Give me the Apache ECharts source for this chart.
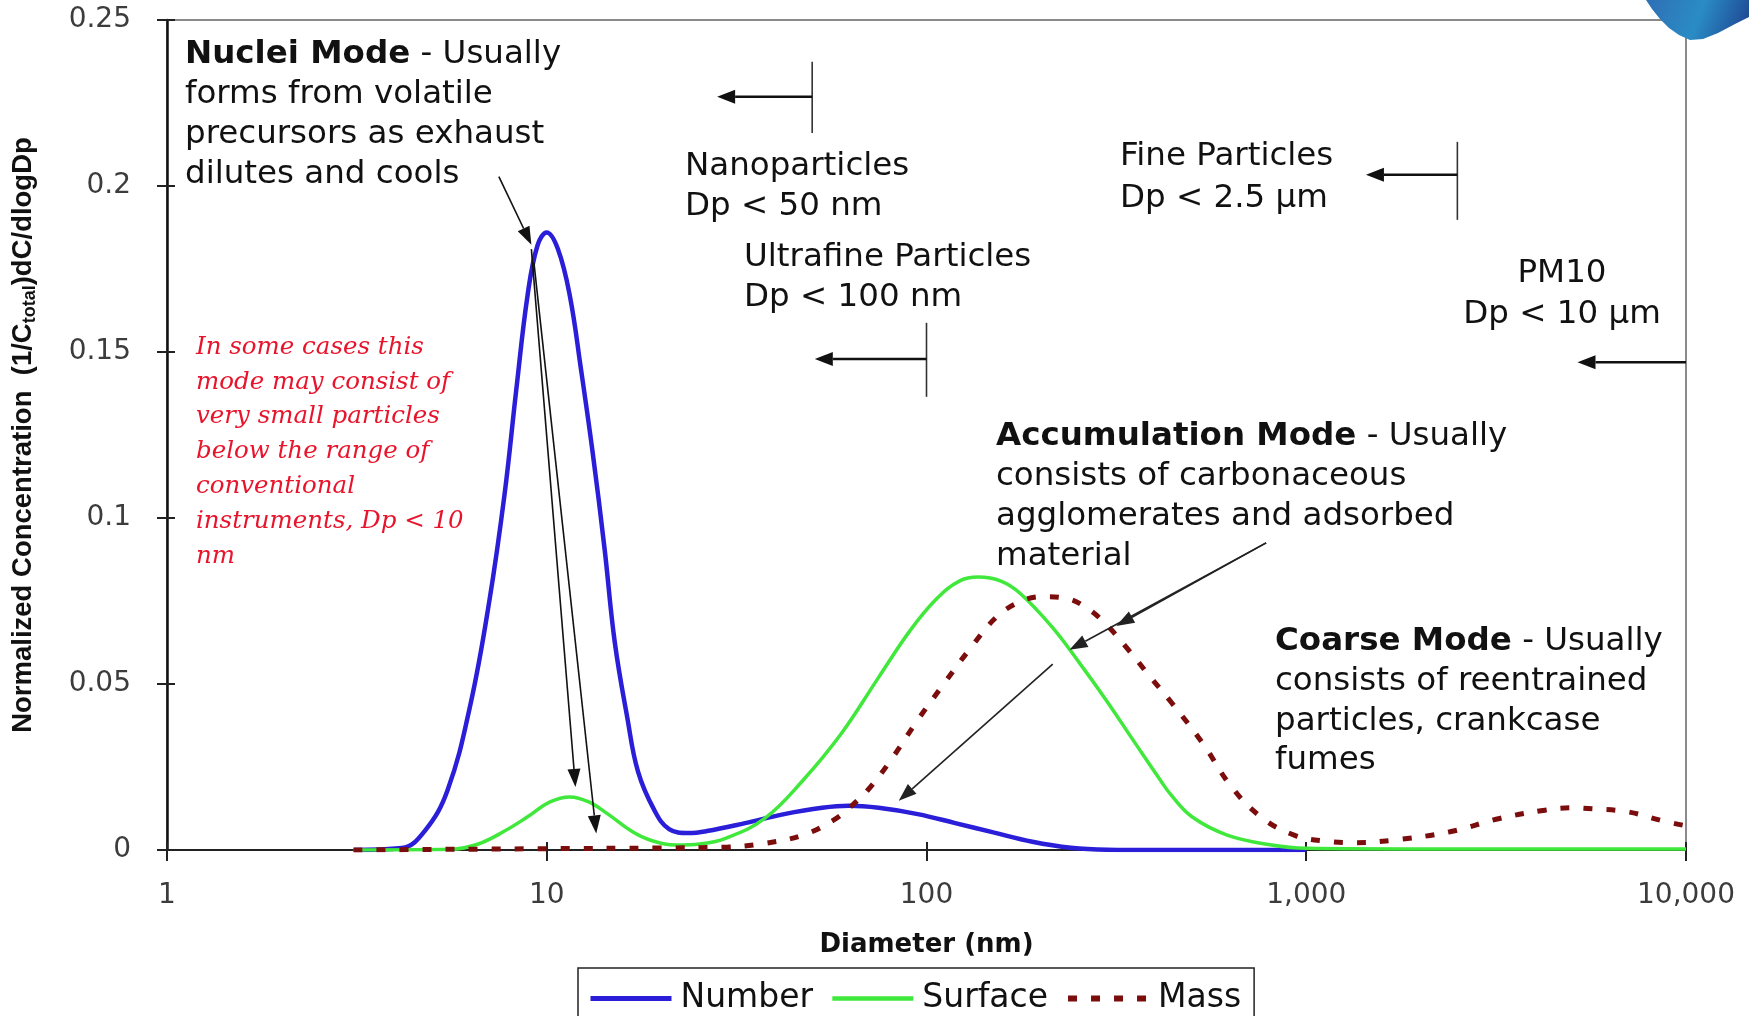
<!DOCTYPE html>
<html>
<head>
<meta charset="utf-8">
<title>Particle size distribution</title>
<style>
  html, body { margin: 0; padding: 0; background: #fff; }
  #chart { width: 1749px; height: 1016px; }
</style>
<script src="https://cdn.jsdelivr.net/npm/echarts@6.0.0/dist/echarts.min.js"></script>
</head>
<body>
<div id="chart"></div>
<script>
// diameter in nm, value is normalized (1/Ctotal)dC/dlogDp
const numberDp = [3.1, 4.15, 4.77, 5.48, 6.3, 7.06, 7.74, 8.32, 8.9, 9.45, 10, 10.7, 11.5, 12.3, 13.2, 14.2, 15.1, 16.3, 17.4, 19.2, 21, 23.6, 26.4, 33.3, 42.2, 53.1, 62.4, 74.8, 94.8, 119, 150, 190, 240, 300, 400, 1000]
const numberVal = [0, 0.0006, 0.0057, 0.018, 0.044, 0.075, 0.107, 0.139, 0.167, 0.182, 0.186, 0.181, 0.167, 0.145, 0.12, 0.0907, 0.0627, 0.0398, 0.0235, 0.012, 0.0063, 0.0051, 0.0057, 0.0081, 0.0108, 0.0127, 0.0133, 0.0127, 0.0108, 0.0081, 0.0053, 0.0025, 0.0007, 0.0001, 0, 0]

const surfaceDp = [3.1, 5.6, 6.6, 7.74, 8.9, 10.2, 11.5, 12.9, 14.5, 16.7, 18.7, 22, 25.3, 29.7, 37.5, 47.3, 59.6, 74.8, 90.4, 106, 122, 137, 157, 176, 214, 253, 297, 350, 413, 441, 500, 619, 811, 1000, 2000, 10000]
const surfaceVal = [0, 0.0002, 0.0018, 0.0057, 0.01, 0.0145, 0.016, 0.0145, 0.0108, 0.0057, 0.003, 0.0015, 0.0018, 0.0036, 0.0095, 0.021, 0.035, 0.052, 0.066, 0.0755, 0.081, 0.0822, 0.081, 0.0774, 0.0672, 0.0563, 0.0452, 0.0331, 0.021, 0.0165, 0.01, 0.0045, 0.0015, 0.0005, 0.0003, 0.0003]

const massDp = [3.1, 10, 20, 30, 37.5, 47.3, 56.9, 63, 70, 80.5, 94.6, 111, 131, 154, 180, 205, 235, 265, 297, 339, 386, 441, 535, 631, 759, 929, 1135, 1343, 1700, 2390, 3230, 4250, 5000, 5680, 7030, 8670, 9800]
const massVal = [0, 0.0004, 0.0006, 0.0009, 0.002, 0.0045, 0.009, 0.013, 0.018, 0.027, 0.039, 0.05, 0.061, 0.0705, 0.0752, 0.0763, 0.0757, 0.0728, 0.068, 0.0605, 0.0525, 0.0445, 0.032, 0.0195, 0.01, 0.0045, 0.0026, 0.0022, 0.003, 0.0055, 0.0095, 0.012, 0.0127, 0.0124, 0.0115, 0.0088, 0.0075]

const seriesNames = ['Number', 'Surface', 'Mass']
const xTickLabels = ['1', '10', '100', '1,000', '10,000']
const yTickLabels = ['0', '0.05', '0.1', '0.15', '0.2', '0.25']

// size class cut-offs (nm)
const cutDp = [50, 100, 2500, 10000]

const blue = '#2a1ed8'
const green = '#3fe83b'
const maroon = '#7b0d0d'
const sans = 'DejaVu Sans'

function pairs(xs, ys) {
  return xs.map((x, i) => [x, ys[i]])
}

const chart = echarts.init(document.getElementById('chart'))

const axisDark = { color: '#222', width: 2 }

chart.setOption({
  animation: false,
  backgroundColor: '#ffffff',
  grid: { left: 165, right: 63, top: 20, bottom: 166, show: true, borderColor: '#8a8a8a', borderWidth: 2 },
  legend: {
    data: [
      { name: seriesNames[0], lineStyle: { width: 5 } },
      { name: seriesNames[1], lineStyle: { width: 4.5 } },
      { name: seriesNames[2], lineStyle: { width: 6 } }
    ],
    left: 578,
    top: 968,
    itemWidth: 81,
    itemHeight: 16,
    itemGap: 17,
    padding: [14, 13, 8, 10],
    borderColor: '#222',
    borderWidth: 1.5,
    backgroundColor: '#fff',
    selectedMode: false,
    itemStyle: { opacity: 0 },
    textStyle: { fontFamily: sans, fontSize: 33, color: '#111', padding: [0, 0, 0, 4] }
  },
  xAxis: [
    {
      type: 'log',
      logBase: 10,
      min: 1,
      max: 10000,
      name: 'Diameter (nm)',
      nameLocation: 'middle',
      nameGap: 82,
      nameTextStyle: { fontFamily: sans, fontSize: 26, fontWeight: 'bold', color: '#111' },
      axisLine: { onZero: false, lineStyle: axisDark },
      axisTick: { length: 11, lineStyle: axisDark },
      splitLine: { show: false },
      axisLabel: {
        margin: 32,
        fontFamily: sans,
        fontSize: 28,
        color: '#3c3c3c',
        formatter: v => xTickLabels[Math.round(Math.log10(v))]
      }
    },
    {
      type: 'log',
      logBase: 10,
      min: 1,
      max: 10000,
      position: 'bottom',
      axisLine: { show: false },
      axisLabel: { show: false },
      splitLine: { show: false },
      axisTick: { inside: true, length: 8, lineStyle: axisDark }
    }
  ],
  yAxis: [
    {
      type: 'value',
      min: 0,
      max: 0.25,
      interval: 0.05,
      name: 'Normalized Concentration  (1/C{sub|total})dC/dlogDp',
      nameLocation: 'middle',
      nameRotate: 90,
      nameGap: 128,
      nameTextStyle: {
        fontFamily: 'Liberation Sans',
        fontSize: 27.5,
        fontWeight: 'bold',
        color: '#111',
        lineHeight: 31,
        rich: {
          sub: { fontFamily: 'Liberation Sans', fontSize: 18, fontWeight: 'bold', color: '#111', lineHeight: 31, verticalAlign: 'bottom' }
        }
      },
      axisLine: { show: true, lineStyle: { color: '#111', width: 2.5 } },
      axisTick: { show: true, length: 10, lineStyle: axisDark },
      splitLine: { show: false },
      axisLabel: {
        margin: 36,
        fontFamily: sans,
        fontSize: 28,
        color: '#3c3c3c',
        formatter: v => yTickLabels[Math.round(v / 0.05)]
      }
    },
    {
      type: 'value',
      min: 0,
      max: 0.25,
      interval: 0.05,
      position: 'left',
      axisLine: { show: false },
      axisLabel: { show: false },
      splitLine: { show: false },
      axisTick: { show: true, inside: true, length: 8, lineStyle: axisDark }
    }
  ],
  series: [
    {
      name: seriesNames[0],
      type: 'line',
      data: pairs(numberDp, numberVal),
      smooth: 0.4,
      symbol: 'none',
      color: blue,
      lineStyle: { color: blue, width: 4.5 },
      z: 3
    },
    {
      name: seriesNames[1],
      type: 'line',
      data: pairs(surfaceDp, surfaceVal),
      smooth: 0.4,
      symbol: 'none',
      color: green,
      lineStyle: { color: green, width: 3.5 },
      z: 4
    },
    {
      name: seriesNames[2],
      type: 'line',
      data: pairs(massDp, massVal),
      smooth: 0.4,
      symbol: 'none',
      color: maroon,
      lineStyle: { color: maroon, width: 5, type: [9, 14], cap: 'butt' },
      z: 5
    }
  ]
})

// ---- annotations ----
function px(p) {
  return chart.convertToPixel({ xAxisIndex: 0, yAxisIndex: 0 }, p)
}

function arrow(from, to, width, head, headWidth, color) {
  const p0 = px(from)
  const p1 = px(to)
  const dx = p1[0] - p0[0]
  const dy = p1[1] - p0[1]
  const len = Math.sqrt(dx * dx + dy * dy)
  const ux = dx / len
  const uy = dy / len
  const bx = p1[0] - ux * head
  const by = p1[1] - uy * head
  const hw = headWidth / 2
  return [
    { type: 'line', z: 50, shape: { x1: p0[0], y1: p0[1], x2: bx, y2: by }, style: { stroke: color, lineWidth: width } },
    { type: 'polygon', z: 50, shape: { points: [[p1[0], p1[1]], [bx - uy * hw, by + ux * hw], [bx + uy * hw, by - ux * hw]] }, style: { fill: color } }
  ]
}

function vline(d, v0, v1) {
  const a = px([d, v0])
  const b = px([d, v1])
  return { type: 'line', z: 50, shape: { x1: a[0], y1: a[1], x2: b[0], y2: b[1] }, style: { stroke: '#333', lineWidth: 1.6 } }
}

let g = []

// nuclei mode pointers
g = g.concat(arrow([7.48, 0.2028], [9.11, 0.1823], 1.6, 18, 13, '#111'))
g = g.concat(arrow([9.11, 0.181], [11.9, 0.019], 1.6, 18, 13, '#111'))
g = g.concat(arrow([9.25, 0.177], [13.5, 0.005], 1.6, 18, 13, '#111'))

// accumulation mode pointers
g = g.concat(arrow([784, 0.0925], [316, 0.0675], 1.6, 18, 13, '#222'))
g = g.concat(arrow([784, 0.0925], [238, 0.0603], 1.6, 18, 13, '#222'))
g = g.concat(arrow([215, 0.056], [84.5, 0.0148], 1.6, 18, 13, '#222'))

// size class brackets: vertical marker + arrow pointing to smaller sizes
g.push(vline(cutDp[0], 0.2374, 0.216))
g = g.concat(arrow([cutDp[0], 0.2269], [28.1, 0.2269], 2.4, 18, 14, '#111'))
g.push(vline(cutDp[1], 0.1588, 0.1365))
g = g.concat(arrow([cutDp[1], 0.1479], [50.8, 0.1479], 2.4, 18, 14, '#111'))
g.push(vline(cutDp[2], 0.2133, 0.1898))
g = g.concat(arrow([cutDp[2], 0.2034], [1436, 0.2034], 2.4, 18, 14, '#111'))
g = g.concat(arrow([cutDp[3], 0.1469], [5180, 0.1469], 2.4, 18, 14, '#111'))

function label(x, y, text, extra) {
  return {
    type: 'text',
    z: 60,
    x: x,
    y: y,
    style: Object.assign({
      text: text,
      fontFamily: sans,
      fontSize: 32.5,
      lineHeight: 40,
      fill: '#111',
      align: 'left',
      verticalAlign: 'top',
      rich: { b: { fontFamily: sans, fontSize: 32.5, fontWeight: 'bold', lineHeight: 40, fill: '#111' } }
    }, extra || {})
  }
}

g.push(label(185, 35, '{b|Nuclei Mode} - Usually\nforms from volatile\nprecursors as exhaust\ndilutes and cools'))
g.push(label(685, 147, 'Nanoparticles\nDp < 50 nm'))
g.push(label(744, 238, 'Ultrafine Particles\nDp < 100 nm'))
g.push(label(1120, 136, 'Fine Particles\nDp < 2.5 \u00b5m', { lineHeight: 42 }))
g.push(label(1562, 253, 'PM10\nDp < 10 \u00b5m', { align: 'center', lineHeight: 41 }))
g.push(label(996, 417, '{b|Accumulation Mode} - Usually\nconsists of carbonaceous\nagglomerates and adsorbed\nmaterial'))
g.push(label(1275, 622, '{b|Coarse Mode} - Usually\nconsists of reentrained\nparticles, crankcase\nfumes', { lineHeight: 39.5 }))
g.push(label(196, 330, 'In some cases this\nmode may consist of\nvery small particles\nbelow the range of\nconventional\ninstruments, Dp < 10\nnm', {
  fontFamily: 'DejaVu Serif',
  fontStyle: 'italic',
  fontSize: 24.5,
  lineHeight: 34.8,
  fill: '#e8142c'
}))

// bit of the slide logo peeking in at the top right corner
g.push({
  type: 'polygon',
  z: 70,
  shape: { points: [[1646, 0], [1652, 9], [1660, 19], [1669, 28], [1679, 35], [1690, 40], [1703, 39], [1718, 33], [1735, 24], [1749, 17], [1749, 0]] },
  style: {
    fill: new echarts.graphic.LinearGradient(0, 0, 1, 1, [
      { offset: 0, color: '#2f6fb5' },
      { offset: 0.5, color: '#2a8cc4' },
      { offset: 1, color: '#1d3f8e' }
    ])
  }
})

chart.setOption({ graphic: g })
</script>
</body>
</html>
